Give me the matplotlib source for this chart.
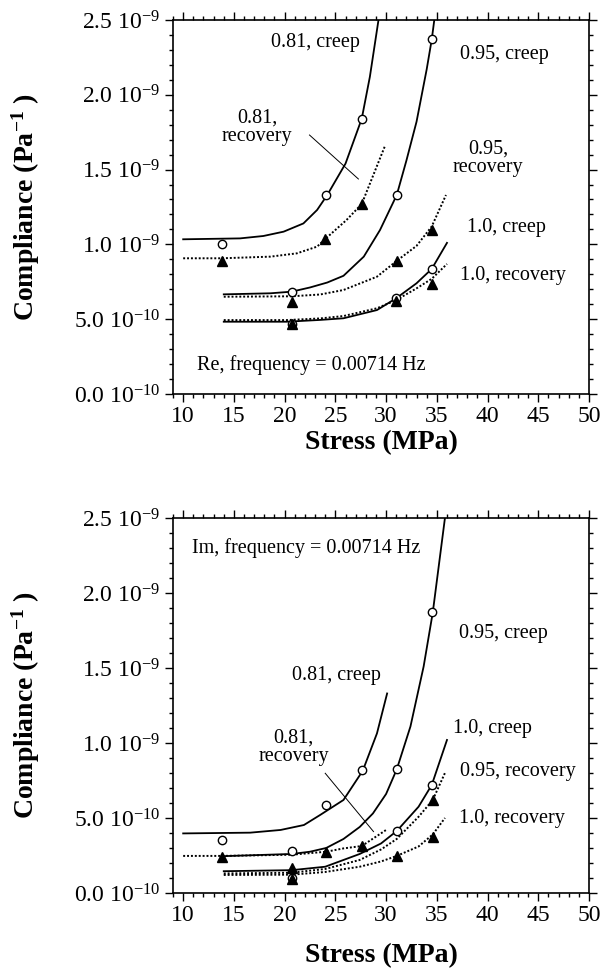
import matplotlib
matplotlib.use("Agg")
import matplotlib.pyplot as plt
from matplotlib.ticker import MultipleLocator

plt.rcParams['font.family'] = ['Liberation Serif', 'DejaVu Serif']
plt.rcParams['mathtext.fontset'] = 'custom'
plt.rcParams['mathtext.rm'] = 'Liberation Serif'
plt.rcParams['mathtext.it'] = 'Liberation Serif:italic'
plt.rcParams['mathtext.bf'] = 'Liberation Serif:bold'

# axis ticks (compliance in units of 1e-9 Pa^-1)
stress_ticks = [10, 15, 20, 25, 30, 35, 40, 45, 50]
j_ticks = [0.0, 0.5, 1.0, 1.5, 2.0, 2.5]
j_tick_labels = ["0.0 10$^{-10}$", "5.0 10$^{-10}$", "1.0 10$^{-9}$",
                 "1.5 10$^{-9}$", "2.0 10$^{-9}$", "2.5 10$^{-9}$"]

# ---- Re (top panel) measured points ----
re_081_creep_s = [13.8, 24.1, 27.6]
re_081_creep_j = [1.00, 1.33, 1.84]
re_081_rec_s = [13.8, 24.0, 27.6]
re_081_rec_j = [0.89, 1.036, 1.27]
re_095_creep_s = [20.7, 31.05, 34.5]
re_095_creep_j = [0.684, 1.33, 2.37]
re_095_rec_s = [20.7, 31.05, 34.5]
re_095_rec_j = [0.617, 0.891, 1.096]
re_10_creep_s = [20.7, 31.0, 34.5]
re_10_creep_j = [0.47, 0.64, 0.836]
re_10_rec_s = [20.7, 31.0, 34.5]
re_10_rec_j = [0.466, 0.624, 0.733]

# ---- Re fitted curves ----
re_081_creep_fit_s = [10, 15.6, 17.9, 19.9, 21.85, 23.2, 24.2, 26.0, 27.6, 28.4, 29.25]
re_081_creep_fit_j = [1.034, 1.04, 1.056, 1.085, 1.14, 1.23, 1.33, 1.54, 1.84, 2.12, 2.5]
re_081_rec_fit_s = [10, 13.8, 18.6, 21.2, 23.2, 24.0, 26.1, 27.6, 29.9]
re_081_rec_fit_j = [0.907, 0.907, 0.918, 0.94, 0.985, 1.036, 1.163, 1.27, 1.66]
re_095_creep_fit_s = [14.0, 18.6, 20.7, 22.5, 24.2, 25.8, 27.8, 29.4, 31.05, 32.0, 33.0, 34.0, 34.5, 34.75]
re_095_creep_fit_j = [0.666, 0.673, 0.684, 0.712, 0.745, 0.79, 0.918, 1.096, 1.33, 1.56, 1.82, 2.17, 2.37, 2.5]
re_095_rec_fit_s = [14.0, 20.7, 23.5, 25.8, 29.1, 31.05, 33.0, 34.5, 35.9]
re_095_rec_fit_j = [0.65, 0.653, 0.665, 0.695, 0.784, 0.89, 0.99, 1.12, 1.33]
re_10_creep_fit_s = [14.0, 20.2, 23.5, 25.8, 29.1, 31.0, 33.0, 34.5, 36.0]
re_10_creep_fit_j = [0.483, 0.483, 0.495, 0.506, 0.561, 0.64, 0.74, 0.836, 1.01]
re_10_rec_fit_s = [14.0, 20.2, 23.5, 25.8, 29.1, 31.0, 33.0, 34.5, 36.0]
re_10_rec_fit_j = [0.494, 0.494, 0.505, 0.521, 0.573, 0.628, 0.706, 0.77, 0.869]

# ---- Im (bottom panel) measured points ----
im_081_creep_s = [13.8, 24.1, 27.6]
im_081_creep_j = [0.353, 0.587, 0.82]
im_081_rec_s = [13.8, 24.1, 27.6]
im_081_rec_j = [0.24, 0.273, 0.313]
im_095_creep_s = [20.7, 31.05, 34.5]
im_095_creep_j = [0.28, 0.824, 1.87]
im_095_rec_s = [20.7, 34.6]
im_095_rec_j = [0.164, 0.62]
im_10_creep_s = [20.7, 31.05, 34.5]
im_10_creep_j = [0.10, 0.413, 0.72]
im_10_rec_s = [20.7, 31.05, 34.6]
im_10_rec_j = [0.091, 0.247, 0.371]

# ---- Im fitted curves ----
im_081_creep_fit_s = [10, 16.6, 19.6, 21.9, 23.5, 25.8, 27.7, 29.1, 30.1]
im_081_creep_fit_j = [0.397, 0.402, 0.42, 0.453, 0.52, 0.62, 0.815, 1.064, 1.33]
im_081_rec_fit_s = [10, 13.8, 20.7, 24.1, 25.8, 27.6, 30.0]
im_081_rec_fit_j = [0.247, 0.247, 0.255, 0.275, 0.297, 0.313, 0.42]
im_095_creep_fit_s = [13.8, 20.7, 22.5, 24.1, 25.8, 27.4, 28.7, 30.0, 31.05, 32.4, 33.7, 34.6, 35.8]
im_095_creep_fit_j = [0.245, 0.26, 0.275, 0.30, 0.36, 0.44, 0.53, 0.66, 0.824, 1.11, 1.51, 1.87, 2.5]
im_095_rec_fit_s = [14.0, 20.7, 24.0, 27.4, 29.5, 31.05, 33.2, 34.6, 35.8]
im_095_rec_fit_j = [0.13, 0.135, 0.16, 0.22, 0.29, 0.36, 0.508, 0.62, 0.80]
im_10_creep_fit_s = [14.0, 20.7, 24.0, 27.4, 29.5, 31.05, 33.2, 34.5, 36.0]
im_10_creep_fit_j = [0.145, 0.152, 0.175, 0.26, 0.33, 0.413, 0.575, 0.72, 1.02]
im_10_rec_fit_s = [14.0, 20.7, 24.0, 27.4, 29.5, 31.05, 33.2, 34.6, 35.8]
im_10_rec_fit_j = [0.12, 0.122, 0.14, 0.175, 0.21, 0.247, 0.31, 0.39, 0.50]

DOT = (0, (1, 1))


def style_axes(ax, xpad):
    ax.set_xlim(9, 50)
    ax.set_ylim(0, 2.5)
    ax.set_xticks(stress_ticks)
    ax.set_yticks(j_ticks)
    ax.set_yticklabels(j_tick_labels)
    ax.xaxis.set_minor_locator(MultipleLocator(1))
    ax.yaxis.set_minor_locator(MultipleLocator(0.1))
    ax.tick_params(which='both', direction='out', top=True, right=True,
                   labelsize=17, width=1.0, pad=3)
    ax.tick_params(which='major', length=6)
    ax.tick_params(which='minor', length=3)
    for sp in ax.spines.values():
        sp.set_linewidth(1.2)
    ax.set_xlabel('Stress (MPa)', fontsize=20, fontweight='bold', labelpad=xpad)
    ax.set_ylabel(r'Compliance (Pa$^{\mathbf{-1}}$ )', fontsize=20, fontweight='bold')
    ax.yaxis.set_label_coords(-0.315, 0.5)


def draw_set(ax, fits, creep_pts, rec_pts):
    for s, j, ls in fits:
        ax.plot(s, j, color='black', lw=1.4 if ls != '-' else 1.3, linestyle=ls)
    for s, j in creep_pts:
        ax.plot(s, j, 'o', ms=6, mfc='white', mec='black', mew=1.0, linestyle='none')
    for s, j in rec_pts:
        ax.plot(s, j, '^', ms=6.5, color='black', linestyle='none')


fig = plt.figure(figsize=(6.05, 9.74), dpi=100)
ax_re = fig.add_axes([0.286, 0.5955, 0.6876, 0.384])
ax_im = fig.add_axes([0.286, 0.0832, 0.6876, 0.385])

# Re panel
draw_set(ax_re,
         [(re_081_creep_fit_s, re_081_creep_fit_j, '-'),
          (re_081_rec_fit_s, re_081_rec_fit_j, DOT),
          (re_095_creep_fit_s, re_095_creep_fit_j, '-'),
          (re_095_rec_fit_s, re_095_rec_fit_j, DOT),
          (re_10_creep_fit_s, re_10_creep_fit_j, '-'),
          (re_10_rec_fit_s, re_10_rec_fit_j, DOT)],
         [(re_081_creep_s, re_081_creep_j), (re_095_creep_s, re_095_creep_j),
          (re_10_creep_s, re_10_creep_j)],
         [(re_081_rec_s, re_081_rec_j), (re_095_rec_s, re_095_rec_j),
          (re_10_rec_s, re_10_rec_j)])
style_axes(ax_re, 2)
fs = 14.5
ax_re.text(23.0, 2.35, '0.81, creep', fontsize=fs, ha='center', va='center')
ax_re.text(41.7, 2.27, '0.95, creep', fontsize=fs, ha='center', va='center')
ax_re.text(17.3, 1.785, '0.81,\nrecovery', fontsize=fs, ha='center', va='center',
           linespacing=0.95)
ax_re.plot([22.45, 27.27], [1.731, 1.437], color='black', lw=0.7)
ax_re.text(40.05, 1.578, '0.95,\nrecovery', fontsize=fs, ha='center', va='center',
           linespacing=0.95)
ax_re.text(41.9, 1.116, '1.0, creep', fontsize=fs, ha='center', va='center')
ax_re.text(42.5, 0.795, '1.0, recovery', fontsize=fs, ha='center', va='center')
ax_re.text(11.4, 0.194, 'Re, frequency = 0.00714 Hz', fontsize=fs, ha='left', va='center')

# Im panel
draw_set(ax_im,
         [(im_081_creep_fit_s, im_081_creep_fit_j, '-'),
          (im_081_rec_fit_s, im_081_rec_fit_j, DOT),
          (im_095_creep_fit_s, im_095_creep_fit_j, '-'),
          (im_095_rec_fit_s, im_095_rec_fit_j, DOT),
          (im_10_creep_fit_s, im_10_creep_fit_j, '-'),
          (im_10_rec_fit_s, im_10_rec_fit_j, DOT)],
         [(im_081_creep_s, im_081_creep_j), (im_095_creep_s, im_095_creep_j),
          (im_10_creep_s, im_10_creep_j)],
         [(im_081_rec_s, im_081_rec_j), (im_095_rec_s, im_095_rec_j),
          (im_10_rec_s, im_10_rec_j)])
style_axes(ax_im, 12)
ax_im.text(10.86, 2.30, 'Im, frequency = 0.00714 Hz', fontsize=fs, ha='left', va='center')
ax_im.text(41.6, 1.73, '0.95, creep', fontsize=fs, ha='center', va='center')
ax_im.text(25.1, 1.453, '0.81, creep', fontsize=fs, ha='center', va='center')
ax_im.text(20.87, 0.97, '0.81,\nrecovery', fontsize=fs, ha='center', va='center',
           linespacing=0.95)
ax_im.plot([24.0, 28.76], [0.798, 0.409], color='black', lw=0.7)
ax_im.text(40.45, 1.098, '1.0, creep', fontsize=fs, ha='center', va='center')
ax_im.text(43.0, 0.809, '0.95, recovery', fontsize=fs, ha='center', va='center')
ax_im.text(42.4, 0.498, '1.0, recovery', fontsize=fs, ha='center', va='center')

fig.savefig('out.png', dpi=100)
